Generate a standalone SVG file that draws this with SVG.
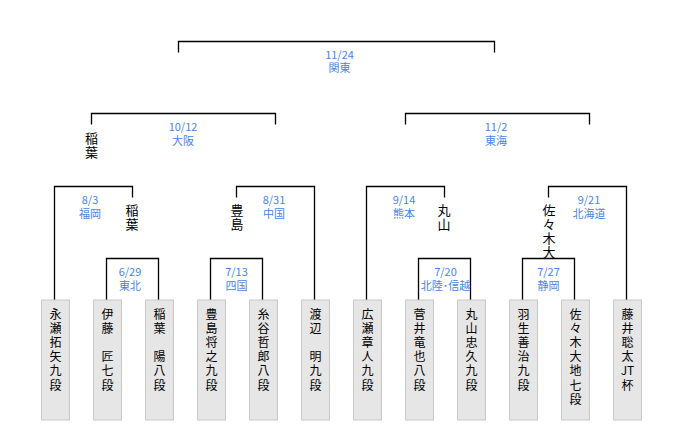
<svg xmlns="http://www.w3.org/2000/svg" width="680" height="430" viewBox="0 0 680 430">
<style>
.bg{fill:#ffffff}
.box{fill:#e6e6e6;stroke:#c8c8c8;stroke-width:1}
.ln{fill:none;stroke:#000000;stroke-width:1.3}
.nm{font-family:"Noto Sans CJK JP","Noto Sans",sans-serif;font-size:12px;fill:#000000;text-anchor:middle;dominant-baseline:central}
.win{font-family:"Noto Sans CJK JP","Noto Sans",sans-serif;font-size:13px;fill:#000000;text-anchor:middle;dominant-baseline:central}
.lb{font-family:"Noto Sans CJK JP","Noto Sans",sans-serif;font-size:11px;fill:#4a84e0;text-anchor:middle}
</style>
<rect class="bg" x="0" y="0" width="680" height="430"/>
<g id="connectors">
<path class="ln" d="M178.5,52.5 V41.5 H494.5 V52.5"/>
<path class="ln" d="M91.5,124.5 V113.5 H275.5 V124.5"/>
<path class="ln" d="M405.5,124.5 V113.5 H589.5 V124.5"/>
<path class="ln" d="M54.5,300 V186.5 H132.5 V197.5"/>
<path class="ln" d="M236.5,197.5 V186.5 H314.5 V300"/>
<path class="ln" d="M366.5,300 V186.5 H444.5 V197.5"/>
<path class="ln" d="M548.5,197.5 V186.5 H626.5 V300"/>
<path class="ln" d="M106.5,300 V258.5 H158.5 V300"/>
<path class="ln" d="M210.5,300 V258.5 H262.5 V300"/>
<path class="ln" d="M418.5,300 V258.5 H470.5 V300"/>
<path class="ln" d="M522.5,300 V258.5 H574.5 V300"/>
</g>
<g id="match-labels">
<text class="lb" x="339.5" y="58.5">11/24</text><text class="lb" x="339.5" y="72">関東</text>
<text class="lb" x="183" y="130.5">10/12</text><text class="lb" x="183" y="144.5">大阪</text>
<text class="lb" x="496" y="130.5">11/2</text><text class="lb" x="496" y="144.5">東海</text>
<text class="lb" x="90" y="203.5">8/3</text><text class="lb" x="90" y="217.5">福岡</text>
<text class="lb" x="274" y="203.5">8/31</text><text class="lb" x="274" y="217.5">中国</text>
<text class="lb" x="404" y="203.5">9/14</text><text class="lb" x="404" y="217.5">熊本</text>
<text class="lb" x="589" y="203.5">9/21</text><text class="lb" x="589" y="217.5">北海道</text>
<text class="lb" x="130" y="275.5">6/29</text><text class="lb" x="130" y="289.5">東北</text>
<text class="lb" x="236.5" y="275.5">7/13</text><text class="lb" x="236.5" y="289.5">四国</text>
<text class="lb" x="445.5" y="275.5">7/20</text><text class="lb" x="445.5" y="289.5">北陸･信越</text>
<text class="lb" x="548.5" y="275.5">7/27</text><text class="lb" x="548.5" y="289.5">静岡</text>
</g>
<g id="winners">
<text class="win"><tspan x="91.5" y="136.5">稲</tspan><tspan x="91.5" y="150.5">葉</tspan></text>
<text class="win"><tspan x="132" y="208.5">稲</tspan><tspan x="132" y="222.5">葉</tspan></text>
<text class="win"><tspan x="237" y="208.5">豊</tspan><tspan x="237" y="222.5">島</tspan></text>
<text class="win"><tspan x="444" y="208.5">丸</tspan><tspan x="444" y="222.5">山</tspan></text>
<text class="win"><tspan x="549" y="208.5">佐</tspan><tspan x="549" y="222.5">々</tspan><tspan x="549" y="236.5">木</tspan><tspan x="549" y="250.5">大</tspan></text>
</g>
<g id="p1"><rect class="box" x="41.5" y="300" width="28" height="120"/><text class="nm"><tspan x="55.5" y="312.5">永</tspan><tspan x="55.5" y="326.7">瀬</tspan><tspan x="55.5" y="340.9">拓</tspan><tspan x="55.5" y="355.1">矢</tspan><tspan x="55.5" y="369.3">九</tspan><tspan x="55.5" y="383.5">段</tspan></text></g>
<g id="p2"><rect class="box" x="93.5" y="300" width="28" height="120"/><text class="nm"><tspan x="107.5" y="312.5">伊</tspan><tspan x="107.5" y="326.7">藤</tspan><tspan x="107.5" y="355.1">匠</tspan><tspan x="107.5" y="369.3">七</tspan><tspan x="107.5" y="383.5">段</tspan></text></g>
<g id="p3"><rect class="box" x="145.5" y="300" width="28" height="120"/><text class="nm"><tspan x="159.5" y="312.5">稲</tspan><tspan x="159.5" y="326.7">葉</tspan><tspan x="159.5" y="355.1">陽</tspan><tspan x="159.5" y="369.3">八</tspan><tspan x="159.5" y="383.5">段</tspan></text></g>
<g id="p4"><rect class="box" x="197.5" y="300" width="28" height="120"/><text class="nm"><tspan x="211.5" y="312.5">豊</tspan><tspan x="211.5" y="326.7">島</tspan><tspan x="211.5" y="340.9">将</tspan><tspan x="211.5" y="355.1">之</tspan><tspan x="211.5" y="369.3">九</tspan><tspan x="211.5" y="383.5">段</tspan></text></g>
<g id="p5"><rect class="box" x="249.5" y="300" width="28" height="120"/><text class="nm"><tspan x="263.5" y="312.5">糸</tspan><tspan x="263.5" y="326.7">谷</tspan><tspan x="263.5" y="340.9">哲</tspan><tspan x="263.5" y="355.1">郎</tspan><tspan x="263.5" y="369.3">八</tspan><tspan x="263.5" y="383.5">段</tspan></text></g>
<g id="p6"><rect class="box" x="301.5" y="300" width="28" height="120"/><text class="nm"><tspan x="315.5" y="312.5">渡</tspan><tspan x="315.5" y="326.7">辺</tspan><tspan x="315.5" y="355.1">明</tspan><tspan x="315.5" y="369.3">九</tspan><tspan x="315.5" y="383.5">段</tspan></text></g>
<g id="p7"><rect class="box" x="353.5" y="300" width="28" height="120"/><text class="nm"><tspan x="367.5" y="312.5">広</tspan><tspan x="367.5" y="326.7">瀬</tspan><tspan x="367.5" y="340.9">章</tspan><tspan x="367.5" y="355.1">人</tspan><tspan x="367.5" y="369.3">九</tspan><tspan x="367.5" y="383.5">段</tspan></text></g>
<g id="p8"><rect class="box" x="405.5" y="300" width="28" height="120"/><text class="nm"><tspan x="419.5" y="312.5">菅</tspan><tspan x="419.5" y="326.7">井</tspan><tspan x="419.5" y="340.9">竜</tspan><tspan x="419.5" y="355.1">也</tspan><tspan x="419.5" y="369.3">八</tspan><tspan x="419.5" y="383.5">段</tspan></text></g>
<g id="p9"><rect class="box" x="457.5" y="300" width="28" height="120"/><text class="nm"><tspan x="471.5" y="312.5">丸</tspan><tspan x="471.5" y="326.7">山</tspan><tspan x="471.5" y="340.9">忠</tspan><tspan x="471.5" y="355.1">久</tspan><tspan x="471.5" y="369.3">九</tspan><tspan x="471.5" y="383.5">段</tspan></text></g>
<g id="p10"><rect class="box" x="509.5" y="300" width="28" height="120"/><text class="nm"><tspan x="523.5" y="312.5">羽</tspan><tspan x="523.5" y="326.7">生</tspan><tspan x="523.5" y="340.9">善</tspan><tspan x="523.5" y="355.1">治</tspan><tspan x="523.5" y="369.3">九</tspan><tspan x="523.5" y="383.5">段</tspan></text></g>
<g id="p11"><rect class="box" x="561.5" y="300" width="28" height="120"/><text class="nm"><tspan x="575.5" y="312.5">佐</tspan><tspan x="575.5" y="326.7">々</tspan><tspan x="575.5" y="340.9">木</tspan><tspan x="575.5" y="355.1">大</tspan><tspan x="575.5" y="369.3">地</tspan><tspan x="575.5" y="383.5">七</tspan><tspan x="575.5" y="397.7">段</tspan></text></g>
<g id="p12"><rect class="box" x="613.5" y="300" width="28" height="120"/><text class="nm"><tspan x="627.5" y="312.5">藤</tspan><tspan x="627.5" y="326.7">井</tspan><tspan x="627.5" y="340.9">聡</tspan><tspan x="627.5" y="355.1">太</tspan><tspan x="627.5" y="369.3">JT</tspan><tspan x="627.5" y="383.5">杯</tspan></text></g>
</svg>
